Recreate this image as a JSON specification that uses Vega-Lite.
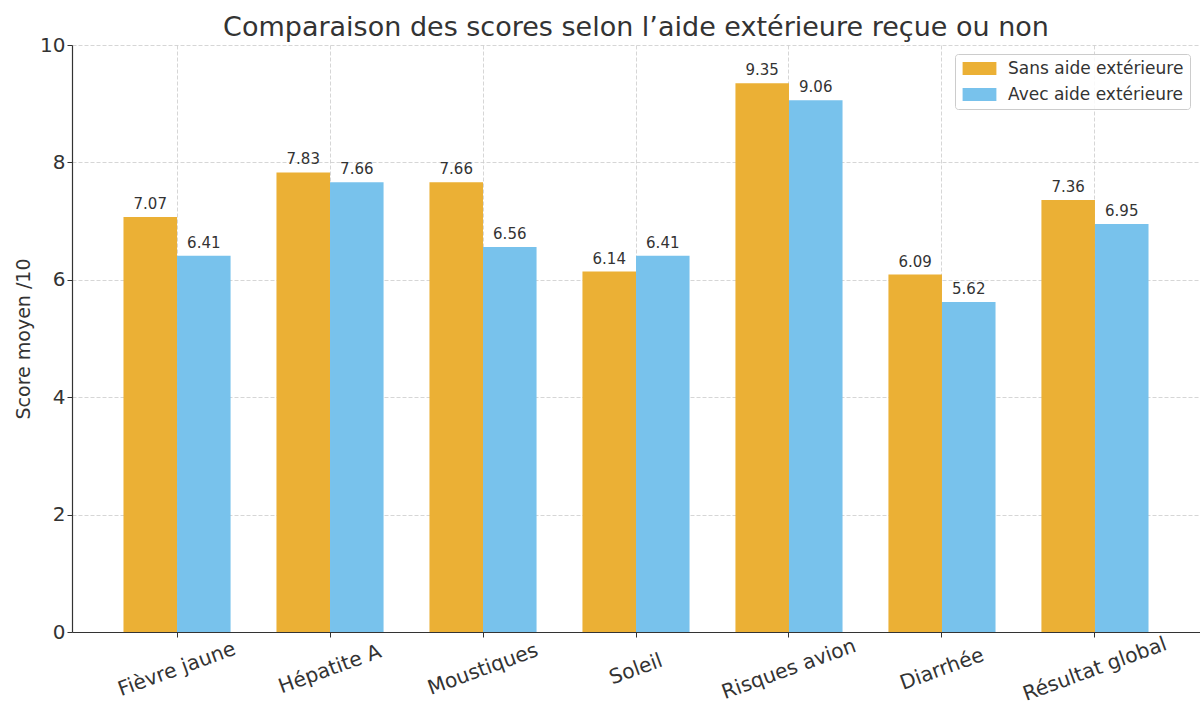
{
  "$schema": "https://vega.github.io/schema/vega-lite/v6.json",
  "autosize": "none",
  "width": 1128,
  "height": 587,
  "padding": {"left": 72, "top": 45, "right": 0, "bottom": 72},
  "background": "white",
  "title": {
    "text": "Comparaison des scores selon l’aide extérieure reçue ou non",
    "fontSize": 27,
    "font": "DejaVu Sans",
    "fontWeight": "normal",
    "color": "#333333",
    "anchor": "middle",
    "offset": -7
  },
  "config": {
    "font": "DejaVu Sans",
    "view": {"stroke": null},
    "axis": {
      "labelFont": "DejaVu Sans",
      "titleFont": "DejaVu Sans",
      "labelColor": "#333333",
      "titleColor": "#333333",
      "domainColor": "#333333",
      "tickColor": "#333333",
      "gridColor": "#cccccc",
      "gridDash": [4, 2],
      "gridWidth": 0.8,
      "tickSize": 5,
      "domainWidth": 1.2
    }
  },
  "data": {
    "values": [
      {"categorie": "Fièvre jaune", "groupe": "Sans aide extérieure", "score": 7.07},
      {"categorie": "Fièvre jaune", "groupe": "Avec aide extérieure", "score": 6.41},
      {"categorie": "Hépatite A", "groupe": "Sans aide extérieure", "score": 7.83},
      {"categorie": "Hépatite A", "groupe": "Avec aide extérieure", "score": 7.66},
      {"categorie": "Moustiques", "groupe": "Sans aide extérieure", "score": 7.66},
      {"categorie": "Moustiques", "groupe": "Avec aide extérieure", "score": 6.56},
      {"categorie": "Soleil", "groupe": "Sans aide extérieure", "score": 6.14},
      {"categorie": "Soleil", "groupe": "Avec aide extérieure", "score": 6.41},
      {"categorie": "Risques avion", "groupe": "Sans aide extérieure", "score": 9.35},
      {"categorie": "Risques avion", "groupe": "Avec aide extérieure", "score": 9.06},
      {"categorie": "Diarrhée", "groupe": "Sans aide extérieure", "score": 6.09},
      {"categorie": "Diarrhée", "groupe": "Avec aide extérieure", "score": 5.62},
      {"categorie": "Résultat global", "groupe": "Sans aide extérieure", "score": 7.36},
      {"categorie": "Résultat global", "groupe": "Avec aide extérieure", "score": 6.95}
    ]
  },
  "encoding": {
    "x": {
      "field": "categorie",
      "type": "nominal",
      "sort": null,
      "scale": {"paddingInner": 0.3, "paddingOuter": 0.3365},
      "axis": {
        "title": null,
        "bandPosition": 0.5,
        "labelAngle": -20,
        "labelAlign": "center",
        "labelBaseline": "middle",
        "labelPadding": 32,
        "labelFontSize": 20.3,
        "grid": true,
        "domain": true
      }
    },
    "xOffset": {
      "field": "groupe",
      "type": "nominal",
      "sort": ["Sans aide extérieure", "Avec aide extérieure"]
    },
    "y": {
      "field": "score",
      "type": "quantitative",
      "scale": {"domain": [0, 10], "nice": false},
      "axis": {
        "title": "Score moyen /10",
        "titleFontSize": 19,
        "titleFontWeight": "normal",
        "titlePadding": 6,
        "labelFontSize": 20,
        "values": [0, 2, 4, 6, 8, 10],
        "grid": true
      }
    },
    "color": {
      "field": "groupe",
      "type": "nominal",
      "sort": ["Sans aide extérieure", "Avec aide extérieure"],
      "scale": {
        "domain": ["Sans aide extérieure", "Avec aide extérieure"],
        "range": ["#ebb035", "#78c2ec"]
      },
      "legend": {
        "title": null,
        "orient": "none",
        "legendX": 883,
        "legendY": 9,
        "labelFontSize": 17,
        "labelLimit": 400,
        "labelColor": "#333333",
        "labelFont": "DejaVu Sans",
        "symbolType": "M-2.6,-1H2.6V1H-2.6Z",
        "symbolSize": 169,
        "symbolStrokeWidth": 0,
        "symbolOpacity": 1,
        "symbolOffset": 10,
        "labelOffset": 20,
        "rowPadding": 8,
        "padding": 6,
        "strokeColor": "#cccccc",
        "fillColor": "rgba(255,255,255,0.85)",
        "cornerRadius": 3
      }
    }
  },
  "layer": [
    {"mark": {"type": "bar"}},
    {
      "mark": {"type": "text", "baseline": "bottom", "dy": -5, "fontSize": 15, "color": "#333333", "font": "DejaVu Sans"},
      "encoding": {
        "text": {"field": "score", "type": "quantitative", "format": ".2f"},
        "color": {"value": "#333333"}
      }
    }
  ]
}
